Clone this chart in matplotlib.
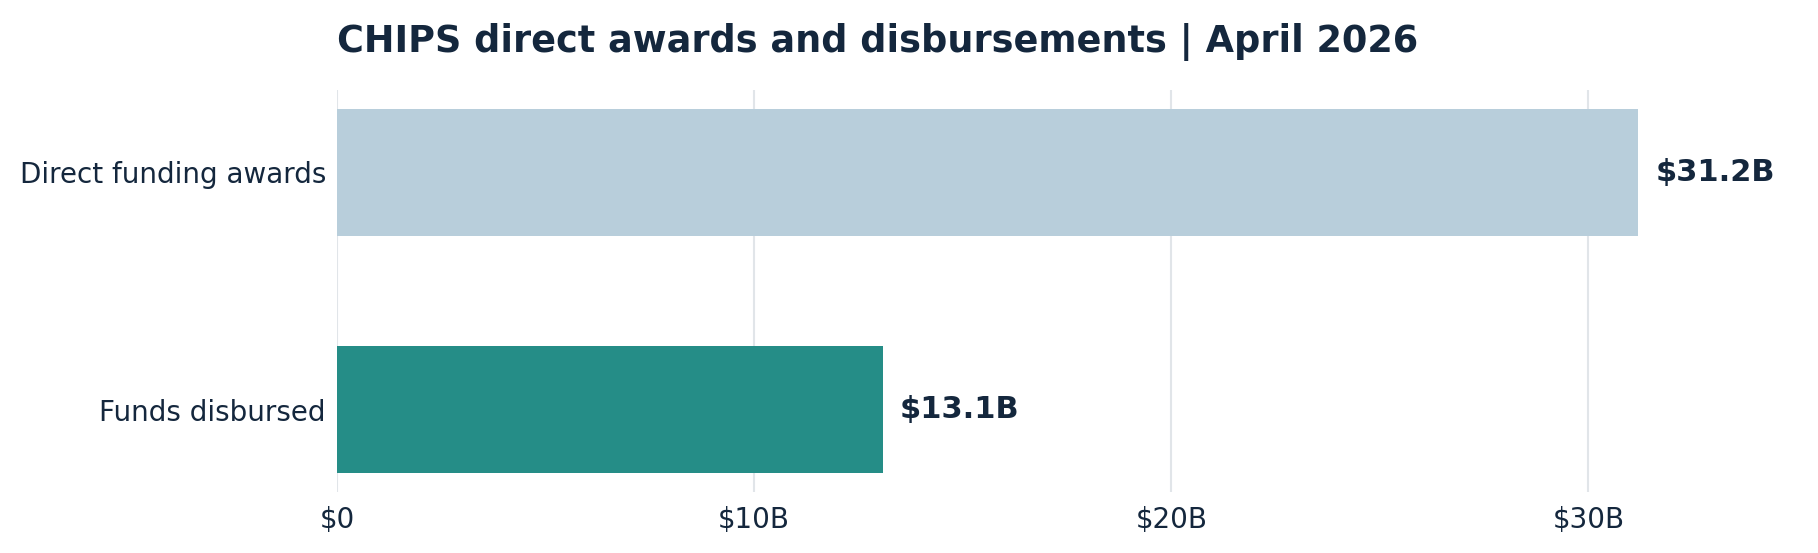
import matplotlib
matplotlib.use("Agg")
import matplotlib.pyplot as plt

categories = ["Direct funding awards", "Funds disbursed"]
values = [31.2, 13.1]
value_labels = ["$31.2B", "$13.1B"]
bar_colors = ["#b8cedb", "#258d87"]
xticks = [0, 10, 20, 30]
xtick_labels = ["$0", "$10B", "$20B", "$30B"]
title = "CHIPS direct awards and disbursements | April 2026"

TEXT = "#14273d"
plt.rcParams['font.family'] = ['DejaVu Sans']

fig = plt.figure(figsize=(18.18, 5.53), dpi=100)
ax = fig.add_axes([337/1818, 1-492/553, (1797-337)/1818, (492-90)/553])

ypos = list(range(len(categories)))
ax.barh(ypos, values, height=0.535, color=bar_colors, zorder=2)
ax.set_yticks(ypos)
ax.set_yticklabels(categories, fontsize=20, color=TEXT)
ax.set_xticks(xticks)
ax.set_xticklabels(xtick_labels, fontsize=20, color=TEXT)
ax.set_xlim(0, 35)
ax.set_ylim(1.348, -0.348)
ax.tick_params(axis='x', length=0, pad=10)
ax.tick_params(axis='y', length=0, pad=8)
for s in ax.spines.values():
    s.set_visible(False)
ax.grid(axis='x', color="#e1e5e9", linewidth=1.5, zorder=0)
ax.set_axisbelow(True)

for y, v, lab in zip(ypos, values, value_labels):
    ax.annotate(lab, xy=(v, y), xytext=(12, 0), textcoords='offset points',
                va='center', ha='left', fontsize=22, fontweight='bold', color=TEXT)

fig.text(337/1818, 1-42/553, title, fontsize=26.4, fontweight='bold', color=TEXT,
         ha='left', va='center')

fig.savefig("out.png", dpi=100)
